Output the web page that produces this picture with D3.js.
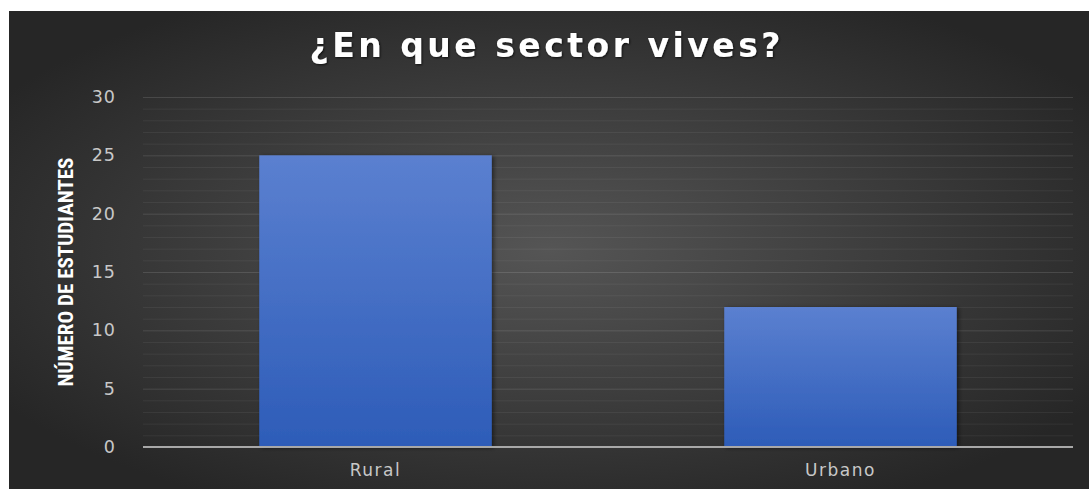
<!DOCTYPE html>
<html><head><meta charset="utf-8">
<script src="https://cdn.jsdelivr.net/npm/d3@7"></script>
<style>html,body{margin:0;padding:0;background:#fff;overflow:hidden}</style>
</head><body>
<svg id="c" width="1089" height="489"></svg>
<script>
const categories = ["Rural", "Urbano"];
const values = [25, 12];
const yTicks = [0, 5, 10, 15, 20, 25, 30];
const title = "¿En que sector vives?";
const yTitle = "NÚMERO DE ESTUDIANTES";

const svg = d3.select("#c");
const defs = svg.append("defs");
const bg = defs.append("radialGradient").attr("id","bg").attr("cx","50%").attr("cy","50%").attr("r","60%");
bg.append("stop").attr("offset","0%").attr("stop-color","#555555");
bg.append("stop").attr("offset","100%").attr("stop-color","#262626");
const bar = defs.append("linearGradient").attr("id","bar").attr("x1",0).attr("y1",0).attr("x2",0).attr("y2",1);
bar.append("stop").attr("offset","0%").attr("stop-color","#5b80d0");
bar.append("stop").attr("offset","100%").attr("stop-color","#2d5cb8");
const sh = defs.append("filter").attr("id","sh").attr("x","-10%").attr("y","-10%").attr("width","130%").attr("height","130%");
sh.append("feDropShadow").attr("dx",2).attr("dy",1).attr("stdDeviation",2).attr("flood-color","#000").attr("flood-opacity",0.5);
const tsh = defs.append("filter").attr("id","tsh");
tsh.append("feDropShadow").attr("dx",1).attr("dy",1).attr("stdDeviation",1.2).attr("flood-color","#000").attr("flood-opacity",0.7);

svg.append("rect").attr("x",9).attr("y",11).attr("width",1080).attr("height",478).attr("fill","url(#bg)");

const m = {left:143, right:1073, top:97, bottom:447};
const x = d3.scaleBand().domain(categories).range([m.left, m.right]).paddingInner(0.5).paddingOuter(0.25);
const y = d3.scaleLinear().domain([0,30]).range([m.bottom, m.top]);

// minor grid
const minor = d3.range(1,31).filter(v => v % 5 !== 0);
svg.append("g").selectAll("line").data(minor).join("line")
  .attr("x1",m.left).attr("x2",m.right).attr("y1",d=>y(d)+0.5).attr("y2",d=>y(d)+0.5)
  .attr("stroke","#ffffff").attr("stroke-opacity",0.06).attr("stroke-width",1);
// major grid
svg.append("g").selectAll("line").data(yTicks.filter(d=>d>0)).join("line")
  .attr("x1",m.left).attr("x2",m.right).attr("y1",d=>y(d)+0.5).attr("y2",d=>y(d)+0.5)
  .attr("stroke","#ffffff").attr("stroke-opacity",0.12).attr("stroke-width",1);

// bars
svg.append("g").selectAll("rect").data(categories).join("rect")
  .attr("x",d=>x(d)).attr("width",x.bandwidth())
  .attr("y",(d,i)=>y(values[i])).attr("height",(d,i)=>y(0)-y(values[i]))
  .attr("fill","url(#bar)").attr("filter","url(#sh)");

// axis line
svg.append("line").attr("x1",m.left).attr("x2",m.right).attr("y1",y(0)).attr("y2",y(0))
  .attr("stroke","#a8a8a8").attr("stroke-width",2);

// y tick labels
const yAxis = d3.axisLeft(y).tickValues(yTicks).tickSize(0).tickPadding(27);
const ga = svg.append("g").attr("transform",`translate(${m.left},0)`).call(yAxis);
ga.select(".domain").remove();
ga.selectAll("text").attr("fill","#c8c8c8").attr("font-family","'DejaVu Sans', Verdana, sans-serif")
  .attr("font-size",17.5).attr("letter-spacing",1);

// x labels
const xAxis = d3.axisBottom(x).tickSize(0).tickPadding(17);
const gx = svg.append("g").attr("transform",`translate(0,${m.bottom})`).call(xAxis);
gx.select(".domain").remove();
gx.selectAll("text").attr("fill","#c8c8c8").attr("font-family","'DejaVu Sans', Verdana, sans-serif")
  .attr("font-size",17).attr("letter-spacing",1.5);

// title
svg.append("text").attr("x",545).attr("y",57).attr("text-anchor","middle")
  .attr("fill","#fff").attr("font-family","'DejaVu Sans', sans-serif").attr("font-weight","bold")
  .attr("font-size",33).attr("textLength",471).attr("lengthAdjust","spacing")
  .attr("filter","url(#tsh)").text(title);

// y title
svg.append("text").attr("transform","translate(73,272) rotate(-90)").attr("text-anchor","middle")
  .attr("fill","#fff").attr("font-family","'Liberation Sans Narrow','Roboto Condensed','Liberation Sans',sans-serif")
  .attr("font-weight","bold").attr("font-size",20).attr("textLength",229).attr("lengthAdjust","spacingAndGlyphs")
  .text(yTitle);
</script>
</body></html>
